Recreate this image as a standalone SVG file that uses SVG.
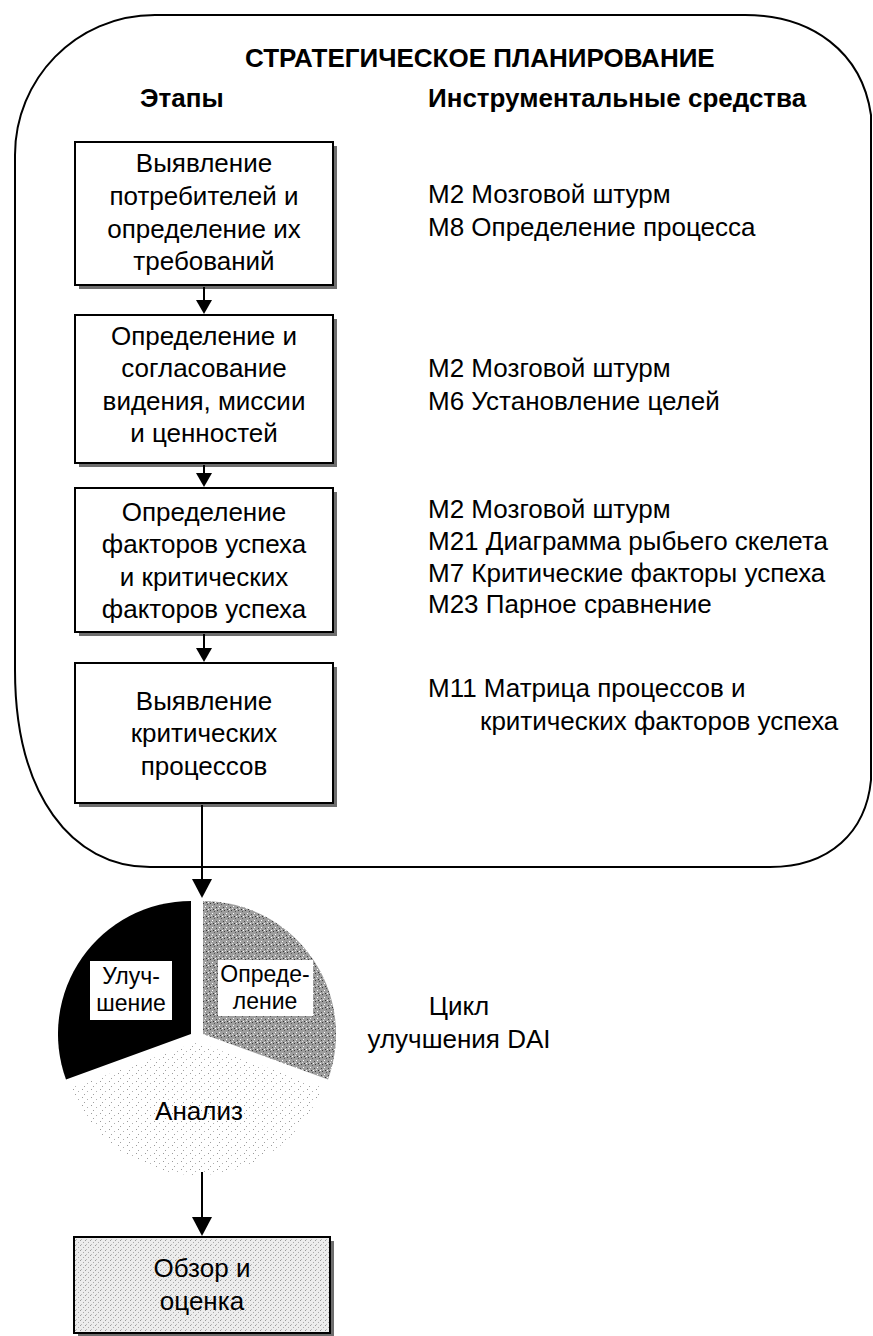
<svg xmlns="http://www.w3.org/2000/svg" width="873" height="1336" viewBox="0 0 873 1336">
  <defs>
    <style>
      .t { font-family: "Liberation Sans", Arial, sans-serif; font-size: 26px; fill: #000; }
      .b { font-weight: bold; }
      .c { text-anchor: middle; }
      .s { font-size: 23px; }
      .box { fill: #fff; stroke: #000; stroke-width: 2; }
      .shadow { fill: #6e6e6e; }
      .line { stroke: #000; stroke-width: 2; fill: none; }
    </style>
    <!-- dense grey stipple -->
    <pattern id="dense" width="7" height="7" patternUnits="userSpaceOnUse">
      <rect width="7" height="7" fill="#9e9e9e"/>
      <rect x="0" y="0" width="1" height="1" fill="#3a3a3a"/>
      <rect x="4" y="1" width="1" height="1" fill="#555"/>
      <rect x="2" y="3" width="1" height="1" fill="#fff"/>
      <rect x="6" y="4" width="1" height="1" fill="#444"/>
      <rect x="1" y="5" width="1" height="1" fill="#ddd"/>
      <rect x="5" y="6" width="1" height="1" fill="#fff"/>
      <rect x="3" y="6" width="1" height="1" fill="#333"/>
    </pattern>
    <!-- sparse light stipple -->
    <pattern id="sparse" width="9" height="8" patternUnits="userSpaceOnUse">
      <rect width="9" height="8" fill="#fff"/>
      <rect x="1" y="1" width="1" height="1" fill="#9a9a9a"/>
      <rect x="6" y="3" width="1" height="1" fill="#b0b0b0"/>
      <rect x="3" y="6" width="1" height="1" fill="#a0a0a0"/>
    </pattern>
    <!-- light stipple for the review box -->
    <pattern id="light" width="5" height="5" patternUnits="userSpaceOnUse">
      <rect width="5" height="5" fill="#ececec"/>
      <rect x="0" y="0" width="1" height="1" fill="#999"/>
      <rect x="3" y="2" width="1" height="1" fill="#aaa"/>
      <rect x="1" y="4" width="1" height="1" fill="#bbb"/>
    </pattern>
  </defs>

  <rect width="873" height="1336" fill="#fff"/>

  <!-- strategic planning frame -->
  <g id="frame">
    <path class="line" d="M155,15 L745,15 C812,15 862,52 871,115 L871,780 C866,832 830,867 770,867 L150,867 C72,867 15,795 15,670 L15,155 C15,80 75,15 155,15 Z"/>
    <text class="t b" x="245" y="67">СТРАТЕГИЧЕСКОЕ ПЛАНИРОВАНИЕ</text>
    <text class="t b" x="140" y="107">Этапы</text>
    <text class="t b" x="428" y="107">Инструментальные средства</text>
  </g>

  <!-- stages -->
  <g id="stage1">
    <rect class="shadow" x="79" y="146" width="258" height="143"/>
    <rect class="box" x="75" y="142" width="258" height="143"/>
    <text class="t c" x="204" y="172">Выявление</text>
    <text class="t c" x="204" y="205">потребителей и</text>
    <text class="t c" x="204" y="238">определение их</text>
    <text class="t c" x="204" y="270">требований</text>
  </g>
  <g id="stage2">
    <rect class="shadow" x="79" y="319" width="258" height="148"/>
    <rect class="box" x="75" y="315" width="258" height="148"/>
    <text class="t c" x="204" y="345">Определение и</text>
    <text class="t c" x="204" y="377">согласование</text>
    <text class="t c" x="204" y="410">видения, миссии</text>
    <text class="t c" x="204" y="442">и ценностей</text>
  </g>
  <g id="stage3">
    <rect class="shadow" x="79" y="492" width="258" height="144"/>
    <rect class="box" x="75" y="488" width="258" height="144"/>
    <text class="t c" x="204" y="521">Определение</text>
    <text class="t c" x="204" y="553">факторов успеха</text>
    <text class="t c" x="204" y="586">и критических</text>
    <text class="t c" x="204" y="618">факторов успеха</text>
  </g>
  <g id="stage4">
    <rect class="shadow" x="79" y="667" width="258" height="140"/>
    <rect class="box" x="75" y="663" width="258" height="140"/>
    <text class="t c" x="204" y="710">Выявление</text>
    <text class="t c" x="204" y="742">критических</text>
    <text class="t c" x="204" y="775">процессов</text>
  </g>

  <!-- tools -->
  <g id="tools1">
    <text class="t" x="428" y="203">М2 Мозговой штурм</text>
    <text class="t" x="428" y="236">М8 Определение процесса</text>
  </g>
  <g id="tools2">
    <text class="t" x="428" y="377">М2 Мозговой штурм</text>
    <text class="t" x="428" y="410">М6 Установление целей</text>
  </g>
  <g id="tools3">
    <text class="t" x="428" y="518">М2 Мозговой штурм</text>
    <text class="t" x="428" y="550">М21 Диаграмма рыбьего скелета</text>
    <text class="t" x="428" y="582">М7 Критические факторы успеха</text>
    <text class="t" x="428" y="613">М23 Парное сравнение</text>
  </g>
  <g id="tools4">
    <text class="t" x="428" y="697">М11 Матрица процессов и</text>
    <text class="t" x="480" y="730">критических факторов успеха</text>
  </g>

  <!-- DAI improvement cycle -->
  <g id="cycle">
    <path d="M197,1042 L322,1087.5 A133,133 0 0 1 72,1087.5 Z" fill="url(#sparse)"/>
    <path d="M203,1034 L203,901 A133,133 0 0 1 328,1079.5 Z" fill="url(#dense)"/>
    <path d="M191,1034 L191,901 A133,133 0 0 0 66,1079.5 Z" fill="#000"/>
    <rect x="90" y="961" width="82" height="59" fill="#fff"/>
    <text class="t c s" x="131" y="984">Улуч-</text>
    <text class="t c s" x="131" y="1011">шение</text>
    <rect x="218" y="960" width="95" height="56" fill="#fff"/>
    <text class="t c s" x="265" y="982">Опреде-</text>
    <text class="t c s" x="265" y="1009">ление</text>
    <text class="t c" x="199" y="1120">Анализ</text>
  </g>
  <g id="cycle-label">
    <text class="t c" x="459" y="1015">Цикл</text>
    <text class="t c" x="459" y="1048">улучшения DAI</text>
  </g>

  <!-- review -->
  <g id="review">
    <rect class="shadow" x="78" y="1241" width="256" height="96"/>
    <rect x="74" y="1237" width="256" height="96" fill="url(#light)" stroke="#000" stroke-width="2"/>
    <text class="t c" x="202" y="1277">Обзор и</text>
    <text class="t c" x="202" y="1310">оценка</text>
  </g>

  <!-- connectors -->
  <g id="connectors">
    <line class="line" x1="204" y1="287" x2="204" y2="300"/>
    <path d="M196,300 L212,300 L204,314 Z"/>
    <line class="line" x1="204" y1="465" x2="204" y2="474"/>
    <path d="M196,473 L212,473 L204,487 Z"/>
    <line class="line" x1="204" y1="634" x2="204" y2="648"/>
    <path d="M196,648 L212,648 L204,662 Z"/>
    <line class="line" x1="202" y1="805" x2="202" y2="880"/>
    <path d="M192,879 L212,879 L202,898 Z"/>
    <line class="line" x1="202" y1="1172" x2="202" y2="1218"/>
    <path d="M192,1217 L212,1217 L202,1236 Z"/>
  </g>
</svg>
